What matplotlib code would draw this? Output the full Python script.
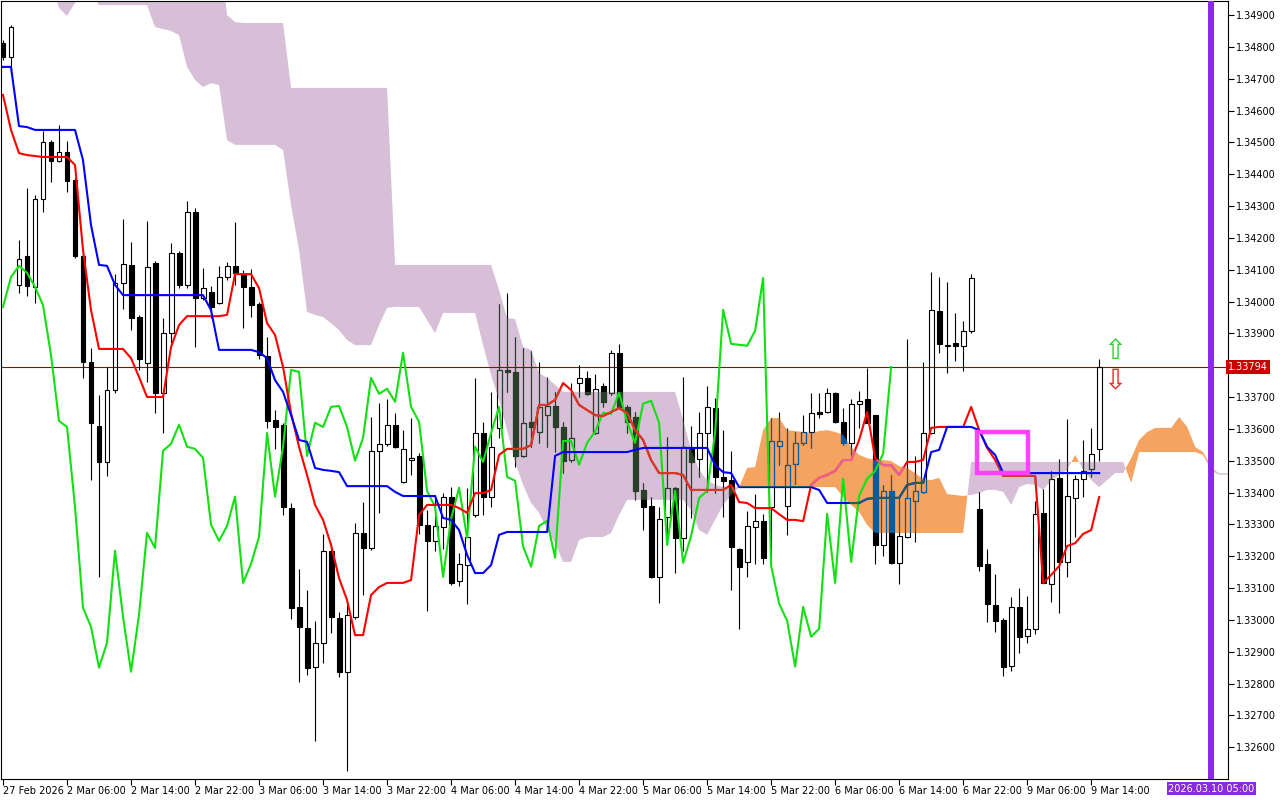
import numpy as np
import matplotlib.pyplot as plt
from matplotlib.path import Path
from matplotlib.patches import Rectangle
from matplotlib.transforms import blended_transform_factory

# GBP-like H1 chart, 27 Feb 22:00 .. 9 Mar 15:00 (138 bars)
opens = [1.34812, 1.34768, 1.34052, 1.34143, 1.34046, 1.34322, 1.34501, 1.34442, 1.34470, 1.34382,
         1.34143, 1.33810, 1.33609, 1.33496, 1.33722, 1.34058, 1.34115, 1.33952, 1.33807, 1.34121,
         1.33713, 1.33901, 1.34153, 1.34052, 1.34281, 1.34011, 1.34030, 1.33996, 1.34077, 1.34112,
         1.34087, 1.34046, 1.33993, 1.33829, 1.33628, 1.33613, 1.33352, 1.33041, 1.32975, 1.32853,
         1.32928, 1.33217, 1.33007, 1.32837, 1.33010, 1.33273, 1.33226, 1.33531, 1.33553, 1.33613,
         1.33434, 1.33503, 1.33515, 1.33299, 1.33248, 1.33292, 1.33387, 1.33123, 1.33173, 1.33330,
         1.33587, 1.33387, 1.33603, 1.33785, 1.33779, 1.33515, 1.33622, 1.33591, 1.33644, 1.33672,
         1.33606, 1.33503, 1.33744, 1.33760, 1.33587, 1.33735, 1.33713, 1.33839, 1.33669, 1.33638,
         1.33408, 1.33358, 1.33135, 1.33324, 1.33415, 1.33258, 1.33540, 1.33506, 1.33587, 1.33666,
         1.33449, 1.33440, 1.33223, 1.33182, 1.33292, 1.33311, 1.33355, 1.33547, 1.33358, 1.33490,
         1.33556, 1.33591, 1.33653, 1.33653, 1.33713, 1.33622, 1.33556, 1.33679, 1.33694, 1.33644,
         1.33236, 1.33405, 1.33179, 1.33261, 1.33374, 1.33402, 1.33587, 1.33971, 1.33861, 1.33870,
         1.33861, 1.33908, 1.33349, 1.33176, 1.33047, 1.33000, 1.32856, 1.33041, 1.32950, 1.32972,
         1.33336, 1.33113, 1.33446, 1.33182, 1.33383, 1.33443, 1.33474, 1.33537]
highs = [1.34822, 1.34869, 1.34193, 1.34357, 1.34335, 1.34536, 1.34507, 1.34555, 1.34504, 1.34388,
         1.34150, 1.33854, 1.33707, 1.33795, 1.34087, 1.34259, 1.34187, 1.33958, 1.34253, 1.34128,
         1.33949, 1.34184, 1.34159, 1.34316, 1.34294, 1.34106, 1.34049, 1.34112, 1.34124, 1.34250,
         1.34099, 1.34102, 1.33999, 1.33889, 1.33660, 1.33619, 1.33368, 1.33160, 1.33094, 1.32997,
         1.33270, 1.33242, 1.33025, 1.33057, 1.33305, 1.33371, 1.33638, 1.33682, 1.33694, 1.33650,
         1.33597, 1.33635, 1.33525, 1.33346, 1.33393, 1.33399, 1.33418, 1.33211, 1.33415, 1.33760,
         1.33622, 1.33716, 1.33993, 1.34027, 1.33889, 1.33854, 1.33845, 1.33810, 1.33763, 1.33716,
         1.33622, 1.33744, 1.33801, 1.33782, 1.33773, 1.33744, 1.33848, 1.33867, 1.33675, 1.33653,
         1.33430, 1.33387, 1.33355, 1.33575, 1.33418, 1.33763, 1.33609, 1.33653, 1.33735, 1.33697,
         1.33597, 1.33531, 1.33226, 1.33343, 1.33396, 1.33333, 1.33635, 1.33653, 1.33603, 1.33591,
         1.33644, 1.33713, 1.33713, 1.33729, 1.33716, 1.33666, 1.33694, 1.33719, 1.33792, 1.33644,
         1.33424, 1.33456, 1.33393, 1.33883, 1.33515, 1.33810, 1.34093, 1.34077, 1.34062, 1.33964,
         1.33939, 1.34087, 1.33402, 1.33223, 1.33145, 1.33007, 1.33073, 1.33101, 1.33076, 1.33374,
         1.33412, 1.33468, 1.33506, 1.33631, 1.33456, 1.33565, 1.33603, 1.33820]
lows = [1.34759, 1.34712, 1.34027, 1.34018, 1.33996, 1.34281, 1.34376, 1.34438, 1.34344, 1.34137,
        1.33760, 1.33440, 1.33135, 1.33452, 1.33713, 1.33977, 1.33911, 1.33785, 1.33748, 1.33650,
        1.33587, 1.33870, 1.34043, 1.34043, 1.33858, 1.34005, 1.33949, 1.33993, 1.34068, 1.34052,
        1.33917, 1.33952, 1.33820, 1.33603, 1.33537, 1.33330, 1.33003, 1.32806, 1.32828, 1.32620,
        1.32865, 1.32959, 1.32821, 1.32526, 1.33003, 1.33079, 1.33220, 1.33336, 1.33547, 1.33540,
        1.33430, 1.33456, 1.33270, 1.33029, 1.33217, 1.33223, 1.33110, 1.33107, 1.33051, 1.33324,
        1.33330, 1.33355, 1.33572, 1.33716, 1.33481, 1.33512, 1.33544, 1.33556, 1.33544, 1.33528,
        1.33462, 1.33496, 1.33701, 1.33707, 1.33584, 1.33669, 1.33707, 1.33666, 1.33587, 1.33377,
        1.33283, 1.33132, 1.33054, 1.33236, 1.33148, 1.33217, 1.33321, 1.33449, 1.33402, 1.33399,
        1.33324, 1.33094, 1.32972, 1.33135, 1.33176, 1.33176, 1.33195, 1.33487, 1.33267, 1.33427,
        1.33550, 1.33540, 1.33635, 1.33650, 1.33619, 1.33550, 1.33518, 1.33603, 1.33619, 1.33176,
        1.33201, 1.33176, 1.33113, 1.33258, 1.33245, 1.33399, 1.33584, 1.33839, 1.33776, 1.33814,
        1.33782, 1.33901, 1.33154, 1.32994, 1.32963, 1.32824, 1.32840, 1.32897, 1.32928, 1.32956,
        1.33116, 1.33057, 1.33022, 1.33135, 1.33261, 1.33387, 1.33449, 1.33500]
closes = [1.34768, 1.34862, 1.34134, 1.34049, 1.34322, 1.34501, 1.34442, 1.34470, 1.34379, 1.34143,
          1.33810, 1.33619, 1.33496, 1.33722, 1.34058, 1.34118, 1.33949, 1.33820, 1.34109, 1.33713,
          1.33901, 1.34153, 1.34052, 1.34281, 1.34011, 1.34043, 1.33983, 1.34077, 1.34112, 1.34090,
          1.34046, 1.33989, 1.33832, 1.33625, 1.33606, 1.33355, 1.33038, 1.32978, 1.32850, 1.32928,
          1.33217, 1.33010, 1.32837, 1.33016, 1.33273, 1.33226, 1.33531, 1.33553, 1.33613, 1.33544,
          1.33537, 1.33509, 1.33299, 1.33248, 1.33295, 1.33387, 1.33116, 1.33176, 1.33261, 1.33587,
          1.33387, 1.33544, 1.33785, 1.33779, 1.33515, 1.33619, 1.33606, 1.33669, 1.33672, 1.33606,
          1.33500, 1.33572, 1.33760, 1.33710, 1.33726, 1.33685, 1.33839, 1.33669, 1.33622, 1.33405,
          1.33355, 1.33135, 1.33317, 1.33415, 1.33258, 1.33544, 1.33496, 1.33587, 1.33669, 1.33449,
          1.33437, 1.33230, 1.33167, 1.33295, 1.33311, 1.33195, 1.33562, 1.33562, 1.33487, 1.33556,
          1.33591, 1.33650, 1.33647, 1.33713, 1.33622, 1.33556, 1.33679, 1.33688, 1.33619, 1.33236,
          1.33405, 1.33179, 1.33264, 1.33383, 1.33405, 1.33587, 1.33974, 1.33867, 1.33864, 1.33861,
          1.33908, 1.34074, 1.33170, 1.33051, 1.32997, 1.32853, 1.33041, 1.32947, 1.32972, 1.33333,
          1.33116, 1.33443, 1.33182, 1.33390, 1.33443, 1.33468, 1.33522, 1.33794]

# Ichimoku lines
tenkan = [1.34649, 1.34539, 1.34466, 1.34460, 1.34457, 1.34454, 1.34454, 1.34454, 1.34454, 1.34429,
          1.34162, 1.33973, 1.33851, 1.33851, 1.33851, 1.33851, 1.33822, 1.33763, 1.33700, 1.33700,
          1.33700, 1.33857, 1.33926, 1.33954, 1.33954, 1.33954, 1.33954, 1.33954, 1.33958, 1.34086,
          1.34086, 1.34086, 1.34042, 1.33932, 1.33895, 1.33794, 1.33650, 1.33543, 1.33455, 1.33361,
          1.33314, 1.33235, 1.33131, 1.33062, 1.32952, 1.32952, 1.33078, 1.33103, 1.33116, 1.33116,
          1.33116, 1.33125, 1.33329, 1.33361, 1.33361, 1.33361, 1.33361, 1.33351, 1.33336, 1.33398,
          1.33398, 1.33408, 1.33518, 1.33537, 1.33537, 1.33537, 1.33549, 1.33675, 1.33675, 1.33691,
          1.33744, 1.33722, 1.33675, 1.33659, 1.33643, 1.33640, 1.33653, 1.33665, 1.33650, 1.33596,
          1.33565, 1.33502, 1.33461, 1.33461, 1.33461, 1.33455, 1.33408, 1.33408, 1.33408, 1.33408,
          1.33408, 1.33424, 1.33370, 1.33367, 1.33351, 1.33351, 1.33351, 1.33332, 1.33314, 1.33314,
          1.33310, 1.33424, 1.33446, 1.33455, 1.33468, 1.33502, 1.33502, 1.33565, 1.33653, 1.33508,
          1.33486, 1.33486, 1.33455, 1.33496, 1.33496, 1.33502, 1.33603, 1.33606, 1.33606, 1.33606,
          1.33606, 1.33669, 1.33596, 1.33540, 1.33502, 1.33452, 1.33452, 1.33452, 1.33452, 1.33452,
          1.33116, 1.33141, 1.33169, 1.33232, 1.33241, 1.33270, 1.33282, 1.33386]
kijun = ([1.34737, 1.34737, 1.34551, 1.34548] + [1.34539] * 6 + [1.34444, 1.34240, 1.34115, 1.34112, 1.34052]
         + [1.34020] * 11 + [1.33973] + [1.33848] * 5
         + [1.33841, 1.33822, 1.33753, 1.33716, 1.33643, 1.33565, 1.33559, 1.33477, 1.33471, 1.33468, 1.33464]
         + [1.33420] * 6 + [1.33402] + [1.33389] * 5
         + [1.33320, 1.33314, 1.33282, 1.33204, 1.33147, 1.33147, 1.33172, 1.33267] + [1.33276] * 6
         + [1.33515] + [1.33527] * 9 + [1.33534] + [1.33540] * 9 + [1.33486, 1.33464, 1.33461]
         + [1.33417] * 10 + [1.33408] + [1.33367] * 5 + [1.33380] + [1.33383] * 4
         + [1.33424, 1.33430, 1.33430, 1.33527, 1.33534] + [1.33606] * 4
         + [1.33596, 1.33543, 1.33518] + [1.33461] * 13)

# Senkou spans, bars 0..163 (cloud runs 26 bars ahead)
span_a = ([1.35010] * 7 + [1.34922, 1.34897, 1.34938, 1.34978, 1.34978] + [1.34931] * 7
          + [1.34862, 1.34856, 1.34850, 1.34837, 1.34737, 1.34696, 1.34674, 1.34686, 1.34680, 1.34507]
          + [1.34492] * 6 + [1.34476, 1.34303, 1.34162, 1.33967, 1.33958, 1.33951, 1.33932, 1.33910, 1.33879]
          + [1.33863] * 3 + [1.33926, 1.33980] + [1.33983] * 4 + [1.33942, 1.33901] + [1.33964] * 5
          + [1.33863, 1.33769, 1.33691, 1.33596, 1.33496, 1.33424, 1.33367, 1.33336, 1.33282, 1.33241,
             1.33182, 1.33182, 1.33251, 1.33260, 1.33260, 1.33260, 1.33273, 1.33329]
          + [1.33377] * 8 + [1.33345, 1.33282, 1.33267, 1.33314, 1.33361, 1.33392, 1.33417]
          + [1.33477, 1.33480, 1.33596, 1.33634, 1.33634, 1.33596, 1.33593, 1.33590, 1.33587, 1.33593,
             1.33596, 1.33590, 1.33581, 1.33543, 1.33518, 1.33508, 1.33502, 1.33502, 1.33499, 1.33483,
             1.33477, 1.33461, 1.33442, 1.33439, 1.33446, 1.33395, 1.33392, 1.33389]
          + [1.33392, 1.33398, 1.33408, 1.33408, 1.33402, 1.33361, 1.33417, 1.33427, 1.33424, 1.33408,
             1.33439, 1.33455, 1.33471, 1.33518, 1.33471, 1.33439, 1.33417, 1.33439, 1.33461, 1.33461]
          + [1.33508, 1.33565, 1.33590, 1.33603, 1.33603, 1.33603, 1.33637, 1.33606, 1.33543, 1.33527,
             1.33480] + [1.33458] * 12)
span_b = ([1.35135] * 28 + [1.34900, 1.34878] + [1.34875] * 6 + [1.34671] * 13 + [1.34115] * 13
          + [1.34036, 1.33948, 1.33945, 1.33857, 1.33848, 1.33775, 1.33760, 1.33738] + [1.33716] * 15
          + [1.33628, 1.33534, 1.33471, 1.33439, 1.33424] + [1.33417] * 15
          + [1.33386, 1.33361, 1.33339, 1.33298] + [1.33273] * 12
          + [1.33496] * 20 + [1.33430] + [1.33527] * 8 + [1.33518, 1.33471] + [1.33458] * 12)

last_price = 1.33794
price_ticks = [1.349, 1.348, 1.347, 1.346, 1.345, 1.344, 1.343, 1.342, 1.341, 1.340, 1.339,
               1.337, 1.336, 1.335, 1.334, 1.333, 1.332, 1.331, 1.330, 1.329, 1.328,
               1.327, 1.326]
time_labels = ['27 Feb 2026', '2 Mar 06:00', '2 Mar 14:00', '2 Mar 22:00', '3 Mar 06:00',
               '3 Mar 14:00', '3 Mar 22:00', '4 Mar 06:00', '4 Mar 14:00', '4 Mar 22:00',
               '5 Mar 06:00', '5 Mar 14:00', '5 Mar 22:00', '6 Mar 06:00', '6 Mar 14:00',
               '6 Mar 22:00', '9 Mar 06:00', '9 Mar 14:00']
time_line_label = '2026.03.10 05:00'
time_line_bar = 151
box_bars = (121.75, 128.1)
box_prices = (1.33461, 1.33590)

o = np.array(opens); h = np.array(highs); l = np.array(lows); c = np.array(closes)
x = np.arange(len(c))
xc = np.arange(len(span_a))
sa = np.array(span_a); sb = np.array(span_b)

fig = plt.figure(figsize=(12.8, 8), dpi=100)
ax = fig.add_axes([1 / 1280, 21 / 800, 1227 / 1280, 778 / 800])
ax.set_xlim(-0.25, 153.1)
ax.set_ylim(1.32500, 1.34944)

# cloud
orange = ax.fill_between(xc, sa, sb, where=sa >= sb, interpolate=True,
                         color='#F4A460', lw=0, zorder=1)
purple = ax.fill_between(xc, sa, sb, where=sa <= sb, interpolate=True,
                         color='#D8BFD8', lw=0, zorder=1)
ax.plot(xc[151:], sb[151:], color='#D8BFD8', lw=1, zorder=1)
orange_clip = Path.make_compound_path(*orange.get_paths())
purple_clip = Path.make_compound_path(*purple.get_paths())

ax.axhline(last_price, color='#a00000', lw=0.8, zorder=1.5)

up = c >= o
top = np.maximum(o, c)
bot = np.minimum(o, c)
bw = 0.62


def candles(dark, z, clip=None):
    arts = []
    arts.append(ax.vlines(x, top, h, color=dark, lw=0.8, zorder=z))
    arts.append(ax.vlines(x, l, bot, color=dark, lw=0.8, zorder=z))
    arts += list(ax.bar(x[up], (top - bot)[up], bottom=bot[up], width=bw,
                        facecolor='none', edgecolor=dark, lw=0.8, zorder=z))
    arts += list(ax.bar(x[~up], (top - bot)[~up], bottom=bot[~up], width=bw,
                        facecolor=dark, edgecolor=dark, lw=0.8, zorder=z))
    if clip is not None:
        for a in arts:
            a.set_clip_path(clip, ax.transData)


candles('black', 2)
candles('#0B5B9F', 2.1, orange_clip)
candles('#274027', 2.1, purple_clip)

# ichimoku lines
ax.plot(x[:len(c) - 26], c[26:], color='#11e011', lw=1.5, zorder=3)
ax.plot(x, tenkan, color='#ff0000', lw=1.5, zorder=3)
tk2, = ax.plot(x, tenkan, color='#e8649c', lw=1.5, zorder=3.1)
tk2.set_clip_path(orange_clip, ax.transData)
tk3, = ax.plot(x, tenkan, color='#d23c2a', lw=1.5, zorder=3.1)
tk3.set_clip_path(purple_clip, ax.transData)
ax.plot(x, kijun, color='#0000ff', lw=1.5, zorder=3.2)
kj2, = ax.plot(x, kijun, color='#1f6060', lw=1.5, zorder=3.3)
kj2.set_clip_path(orange_clip, ax.transData)

# marked zone
ax.add_patch(Rectangle((box_bars[0], box_prices[0]), box_bars[1] - box_bars[0],
                       box_prices[1] - box_prices[0], fill=False,
                       edgecolor='#ff40ff', lw=3.2, zorder=4))

# signal arrows
ax.text(139, 1.33846, '\u21e7', color='#33cc33', fontsize=20, ha='center', va='center', zorder=5)
ax.text(139, 1.33750, '\u21e9', color='#ff2020', fontsize=20, ha='center', va='center', zorder=5)

# time line
ax.axvline(time_line_bar, color='#8A2BE2', lw=4.3, zorder=5)
ax.text(time_line_bar, -0.006, time_line_label, transform=blended_transform_factory(ax.transData, ax.transAxes),
        ha='center', va='top', fontsize=7, color='white',
        bbox=dict(boxstyle='square,pad=0.15', facecolor='#8A2BE2', edgecolor='none'))

# axes styling
for s in ax.spines.values():
    s.set_linewidth(0.8)
    s.set_color('black')
ax.yaxis.tick_right()
ax.set_yticks(price_ticks)
ax.set_yticklabels(['%.5f' % p for p in price_ticks])
ax.tick_params(axis='y', direction='out', length=4, width=0.8, labelsize=7, pad=2)
ax.set_xticks(np.arange(0, 8 * len(time_labels), 8))
ax.set_xticklabels(time_labels)
for t in ax.get_xticklabels():
    t.set_ha('left')
ax.tick_params(axis='x', direction='out', length=4, width=0.8, labelsize=7, pad=1)

ax.text(1.0, last_price, '1.33794', transform=blended_transform_factory(ax.transAxes, ax.transData),
        ha='left', va='center', fontsize=7, color='white', zorder=6,
        bbox=dict(boxstyle='square,pad=0.2', facecolor='#c80000', edgecolor='none'))

fig.savefig('out.png', dpi=100, facecolor='white')
